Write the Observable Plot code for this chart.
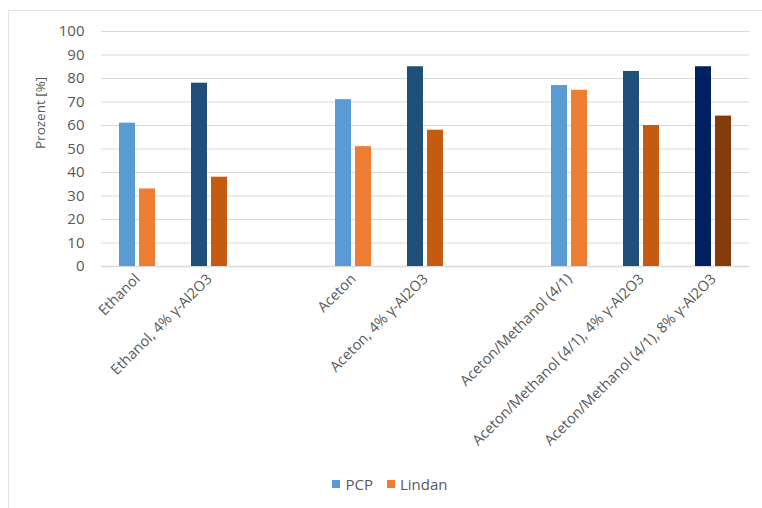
<!DOCTYPE html>
<html>
<head>
<meta charset="utf-8">
<script src="https://cdn.jsdelivr.net/npm/d3@7"></script>
<script src="https://cdn.jsdelivr.net/npm/@observablehq/plot@0.6"></script>
<style>
  html, body { margin: 0; padding: 0; background: #fff; overflow: hidden; }
  body { width: 762px; height: 508px; position: relative; font-family: "Open Sans", sans-serif; }
  #frame { position: absolute; left: 8px; top: 10px; width: 900px; height: 700px; border-top: 1.5px solid #e3e3e3; border-left: 1.5px solid #e3e3e3; box-sizing: border-box; }
  #chart { position: absolute; left: 0; top: 0; }
  #legend { position: absolute; left: 0; top: 472px; width: 780px; text-align: center; font-size: 15px; color: #595959; }
  #legend span.item { display: inline-flex; align-items: center; margin: 0 7px; }
  #legend span.sw { display: inline-block; width: 8px; height: 8px; margin-right: 5px; }
</style>
</head>
<body>
<div id="frame"></div>
<div id="chart"></div>
<div id="legend"></div>
<script>
const categories = [
  "Ethanol",
  "Ethanol, 4% γ-Al2O3",
  "Aceton",
  "Aceton, 4% γ-Al2O3",
  "Aceton/Methanol (4/1)",
  "Aceton/Methanol (4/1), 4% γ-Al2O3",
  "Aceton/Methanol (4/1), 8% γ-Al2O3"
];
const slots = [
  "Ethanol",
  "Ethanol, 4% γ-Al2O3",
  "gap1",
  "Aceton",
  "Aceton, 4% γ-Al2O3",
  "gap2",
  "Aceton/Methanol (4/1)",
  "Aceton/Methanol (4/1), 4% γ-Al2O3",
  "Aceton/Methanol (4/1), 8% γ-Al2O3"
];
const pcp    = [61, 78, 71, 85, 77, 83, 85];
const lindan = [33, 38, 51, 58, 75, 60, 64];
const shade  = [0, 1, 0, 1, 0, 1, 2];
const pcpColors    = ["#5B9BD5", "#1F4E79", "#002060"];
const lindanColors = ["#ED7D31", "#C55A11", "#843C0C"];
const seriesNames = ["PCP", "Lindan"];
const yTicks = d3.range(0, 101, 10);

const pcpData = categories.map((c, i) => ({cat: c, value: pcp[i], color: pcpColors[shade[i]]}));
const linData = categories.map((c, i) => ({cat: c, value: lindan[i], color: lindanColors[shade[i]]}));

const chart = Plot.plot({
  width: 762,
  height: 462,
  marginLeft: 101,
  marginRight: 13,
  marginTop: 31,
  marginBottom: 196,
  style: {fontFamily: "Open Sans, sans-serif", color: "#595959", background: "transparent"},
  x: {domain: slots, paddingInner: 1 - 16 / 72, paddingOuter: (1 - 16 / 72) / 2},
  y: {domain: [0, 100]},
  marks: [
    Plot.gridY(yTicks.filter(d => d > 0), {stroke: "#d9d9d9", strokeOpacity: 1, strokeWidth: 1.2}),
    Plot.ruleY([0], {stroke: "#d9d9d9", strokeWidth: 1.5}),
    Plot.barY(pcpData, {x: "cat", y: "value", fill: "color", dx: -10}),
    Plot.barY(linData, {x: "cat", y: "value", fill: "color", dx: 10}),
    Plot.axisY({ticks: yTicks, tickSize: 0, tickPadding: 17, label: null, fontSize: 15}),
    Plot.axisX({tickSize: 0, tickPadding: 10, tickRotate: -45, label: null, fontSize: 14.5,
      tickFormat: d => d.startsWith("gap") ? "" : d}),
    Plot.text(["Prozent [%]"], {frameAnchor: "left", rotate: -90, dx: -61, fontSize: 13.5, fill: "#595959"})
  ]
});
document.getElementById("chart").appendChild(chart);

const legend = document.getElementById("legend");
[[seriesNames[0], pcpColors[0]], [seriesNames[1], lindanColors[0]]].forEach(([name, col]) => {
  const item = document.createElement("span");
  item.className = "item";
  const sw = document.createElement("span");
  sw.className = "sw";
  sw.style.background = col;
  item.appendChild(sw);
  item.appendChild(document.createTextNode(name));
  legend.appendChild(item);
});
</script>
</body>
</html>
